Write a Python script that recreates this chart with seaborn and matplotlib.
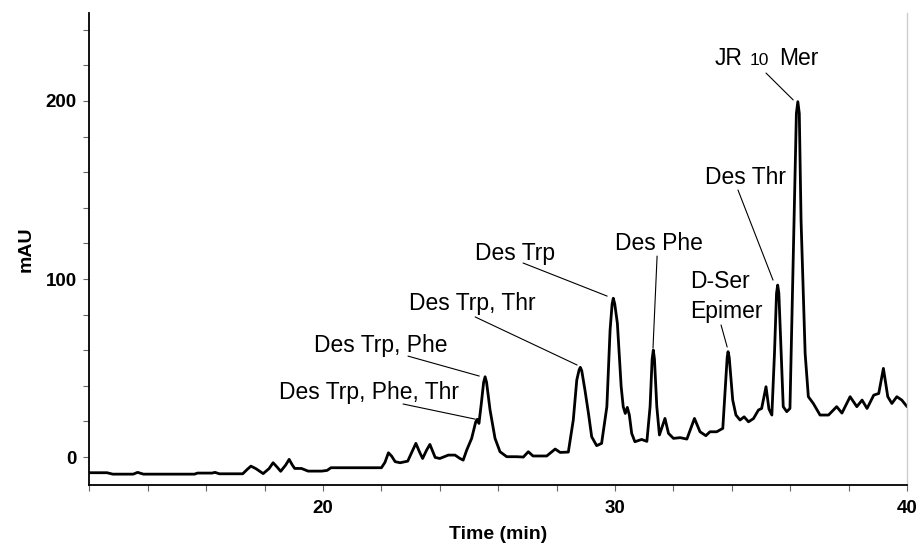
import numpy as np
import pandas as pd
import matplotlib
matplotlib.use("Agg")
import matplotlib.pyplot as plt
from matplotlib.ticker import MultipleLocator, FixedLocator
import seaborn as sns

# chromatogram trace (time in min, absorbance in mAU)
time_min = [
    12.0, 12.6, 12.8, 13.5, 13.65, 13.85, 15.6, 15.7, 16.2, 16.3, 16.45, 17.25,
    17.4, 17.53, 17.7, 17.95, 18.15, 18.29, 18.42, 18.55, 18.72, 18.84, 18.95,
    19.03, 19.26, 19.49, 19.95, 20.14, 20.27, 22.0, 22.12, 22.24, 22.35, 22.47,
    22.64, 22.9, 23.05, 23.18, 23.3, 23.41, 23.55, 23.66, 23.76, 23.84, 24.0,
    24.29, 24.52, 24.69, 24.8, 24.92, 25.09, 25.23, 25.28, 25.34, 25.42, 25.5,
    25.55, 25.6, 25.72, 25.89, 26.06, 26.29, 26.63, 26.86, 27.03, 27.19, 27.66,
    27.95, 28.12, 28.4, 28.57, 28.69, 28.77, 28.81, 28.86, 28.97, 29.09, 29.2,
    29.37, 29.54, 29.72, 29.83, 29.9, 29.94, 29.99, 30.08, 30.21, 30.28, 30.35,
    30.42, 30.49, 30.57, 30.68, 30.91, 31.09, 31.2, 31.27, 31.31, 31.35, 31.43,
    31.52, 31.71, 31.83, 32.0, 32.23, 32.46, 32.72, 32.91, 33.11, 33.25, 33.48,
    33.69, 33.77, 33.84, 33.87, 33.91, 34.03, 34.14, 34.28, 34.42, 34.57, 34.74,
    34.91, 35.02, 35.17, 35.27, 35.37, 35.46, 35.53, 35.57, 35.61, 35.69, 35.76,
    35.88, 35.99, 36.13, 36.21, 36.26, 36.31, 36.37, 36.51, 36.62, 36.79, 37.02,
    37.31, 37.59, 37.77, 38.05, 38.28, 38.46, 38.63, 38.86, 39.03, 39.19, 39.34,
    39.48, 39.65, 39.82, 40.0,
]
mau = [
    -8.8, -8.8, -9.6, -9.6, -8.6, -9.6, -9.6, -9.0, -9.0, -8.6, -9.4, -9.4,
    -7.0, -5.1, -6.5, -9.3, -6.5, -3.2, -5.5, -8.0, -4.5, -1.3, -4.5,
    -6.4, -6.4, -7.9, -7.9, -7.5, -6.0, -6.0, -3.0, 2.4, 0.5, -2.6,
    -3.2, -2.3, 3.0, 7.7, 3.0, -0.8, 4.0, 7.1, 3.0, -0.2, -0.8,
    1.1, 1.1, -0.8, -1.7, 3.9, 10.5, 19.8, 21.2, 18.9, 30.0, 42.0,
    45.1, 42.0, 26.4, 10.5, 3.0, 0.2, 0.2, 0.0, 3.0, 0.6, 0.6,
    4.5, 2.6, 2.8, 20.8, 43.3, 49.0, 50.4, 48.5, 37.6, 24.5, 11.4,
    6.4, 7.7, 28.3, 71.3, 86.0, 89.2, 86.0, 75.1, 39.5, 28.3, 24.5,
    27.9, 23.6, 13.3, 8.6, 9.9, 8.8, 28.3, 55.0, 60.1, 55.0, 28.3,
    12.4, 21.7, 13.3, 10.5, 10.9, 10.1, 21.7, 14.2, 12.0, 14.2, 14.2,
    16.1, 37.6, 56.0, 59.2, 56.0, 32.0, 23.6, 20.8, 22.6, 19.8, 21.6,
    26.4, 27.3, 39.5, 27.0, 23.6, 58.2, 92.0, 96.6, 92.0, 58.2, 28.3,
    25.5, 27.3, 133.0, 193.0, 199.6, 193.0, 133.0, 58.2, 33.9, 30.1, 23.6,
    23.6, 28.3, 24.7, 33.9, 28.3, 32.0, 27.3, 34.8, 35.7, 49.8, 33.9,
    30.1, 33.9, 32.0, 28.3,
]

# peak labels
peak_names = ["Des Trp, Phe, Thr", "Des Trp, Phe", "Des Trp, Thr", "Des Trp",
              "Des Phe", "D-Ser\nEpimer", "Des Thr"]
peak_times = [25.21, 25.35, 28.70, 29.73, 31.30, 33.84, 35.41]
peak_heights = [21.3, 45.5, 51.7, 90.4, 61.2, 61.8, 99.4]
main_name = ["JR", "10", "Mer"]
main_time = 36.10
main_height = 200.6

# where the label texts sit and where their leader lines start
label_xy = [(21.56, 36.5), (21.97, 62.9), (25.12, 86.0), (26.58, 114.6),
            (31.52, 120.2), (32.57, 90.4), (34.47, 157.3)]
line_start = [(22.74, 29.8), (22.91, 56.7), (25.21, 78.7), (26.85, 109.0),
              (31.44, 112.9), (33.63, 74.2), (34.21, 150.0)]

df = pd.DataFrame({"time": time_min, "mAU": mau})

sns.set_style("ticks")
plt.rcParams["font.family"] = ["Liberation Sans", "DejaVu Sans"]
plt.rcParams["text.color"] = "black"
plt.rcParams["axes.labelcolor"] = "black"

fig = plt.figure(figsize=(9.19, 5.43), dpi=100)
ax = fig.add_axes([0.0973, 0.1068, 0.8897, 0.8692])

sns.lineplot(data=df, x="time", y="mAU", estimator=None, sort=False,
             color="black", linewidth=2.0, ax=ax)

ax.set_xlim(12, 40)
ax.set_ylim(-15.7, 249.4)

ax.xaxis.set_major_locator(FixedLocator([20, 30, 40]))
ax.xaxis.set_minor_locator(MultipleLocator(2))
ax.yaxis.set_major_locator(FixedLocator([0, 100, 200]))
ax.yaxis.set_minor_locator(MultipleLocator(20))
ax.tick_params(which="both", direction="out", length=4, width=0.8,
               color="#666666", labelcolor="black")
ax.tick_params(axis="x", which="major", labelsize=13.5, pad=7)
ax.tick_params(axis="y", which="major", labelsize=13.5, pad=5)
for lab in ax.get_xticklabels() + ax.get_yticklabels():
    lab.set_fontweight("bold")

ax.set_xlabel("Time (min)", fontsize=14, fontweight="bold", labelpad=6)
ax.set_ylabel("mAU", fontsize=14, fontweight="bold", labelpad=8)

sns.despine(ax=ax, top=True, right=False)
for side in ["left", "bottom"]:
    ax.spines[side].set_linewidth(1.3)
    ax.spines[side].set_color("black")
ax.spines["right"].set_color("#cccccc")
ax.spines["right"].set_linewidth(1.0)

# labels with leader lines
for name, pt, ph, (tx, ty), (lx, ly) in zip(peak_names, peak_times, peak_heights,
                                            label_xy, line_start):
    ha = "left" if "\n" in name else "center"
    ax.text(tx, ty, name, ha=ha, va="center", fontsize=16.5, linespacing=1.4)
    ax.plot([lx, pt], [ly, ph], color="black", linewidth=0.8)

# main peak label, the "10" is set smaller on the same baseline
for piece, dx, size in zip(main_name, [0, 25.0, 46.0], [16.5, 12.5, 16.5]):
    ax.annotate(piece, xy=(33.42, 220.0), xytext=(dx, 0),
                textcoords="offset points", ha="left", va="baseline",
                fontsize=size)
ax.plot([35.17, main_time], [215.7, main_height], color="black", linewidth=0.8)

plt.savefig("out.png", dpi=100)
